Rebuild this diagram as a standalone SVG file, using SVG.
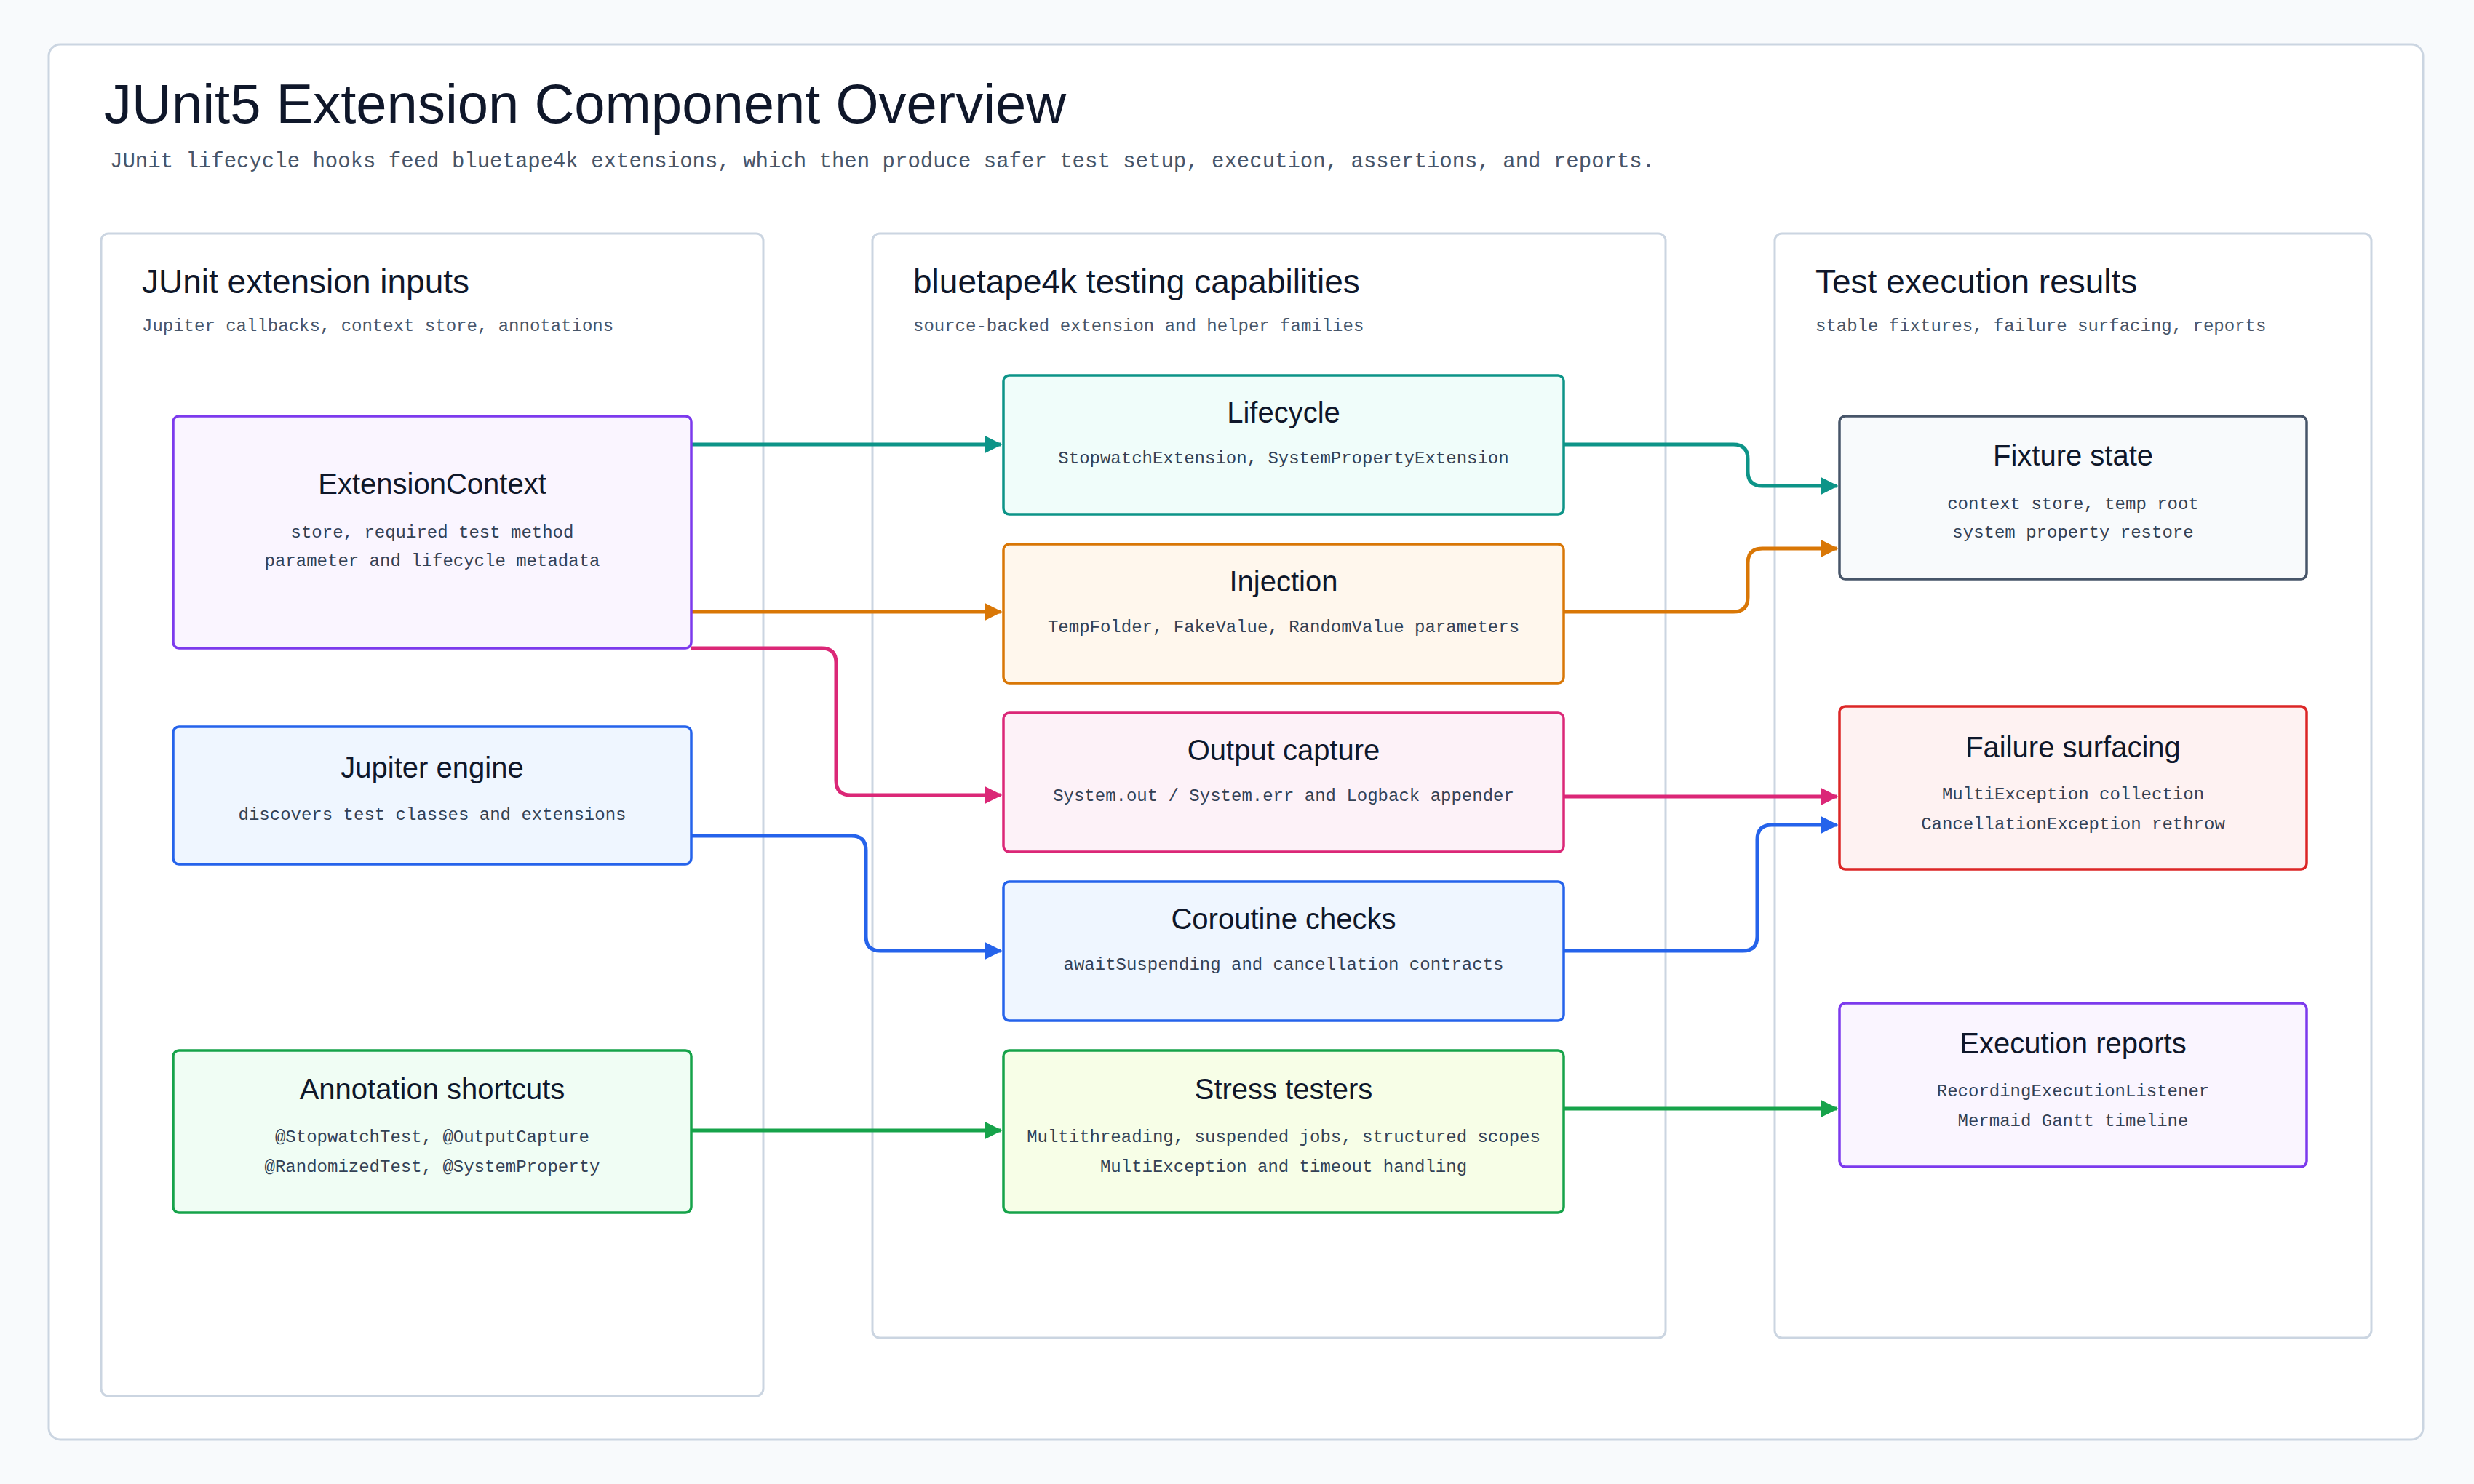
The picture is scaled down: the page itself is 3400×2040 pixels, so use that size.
<svg xmlns="http://www.w3.org/2000/svg" width="3400" height="2040" viewBox="0 0 3400 2040">
<style>
.h{font-family:"Liberation Sans","DejaVu Sans",sans-serif;fill:#0f172a}
.m{font-family:"Liberation Mono","DejaVu Sans Mono",monospace;fill:#475569}
.col{fill:#fff;stroke:#cbd5e1;stroke-width:3}
.nt{font-family:"Liberation Sans","DejaVu Sans",sans-serif;font-size:40px;fill:#0f172a;text-anchor:middle}
.nb{font-family:"Liberation Mono","DejaVu Sans Mono",monospace;font-size:24px;fill:#334155;text-anchor:middle}
.e{fill:none;stroke-width:5}
</style>
<defs>
<marker id="aT" viewBox="0 0 10 10" refX="9" refY="5" markerWidth="5" markerHeight="5" orient="auto"><path d="M0,0L10,5L0,10z" fill="#0d9488"/></marker>
<marker id="aO" viewBox="0 0 10 10" refX="9" refY="5" markerWidth="5" markerHeight="5" orient="auto"><path d="M0,0L10,5L0,10z" fill="#d97706"/></marker>
<marker id="aP" viewBox="0 0 10 10" refX="9" refY="5" markerWidth="5" markerHeight="5" orient="auto"><path d="M0,0L10,5L0,10z" fill="#db2777"/></marker>
<marker id="aB" viewBox="0 0 10 10" refX="9" refY="5" markerWidth="5" markerHeight="5" orient="auto"><path d="M0,0L10,5L0,10z" fill="#2563eb"/></marker>
<marker id="aG" viewBox="0 0 10 10" refX="9" refY="5" markerWidth="5" markerHeight="5" orient="auto"><path d="M0,0L10,5L0,10z" fill="#16a34a"/></marker>
</defs>
<rect width="3400" height="2040" fill="#f8fafc"/>
<rect x="67" y="61" width="3263" height="1918" rx="16" fill="#fff" stroke="#cbd5e1" stroke-width="3"/>
<text class="h" x="143" y="169" font-size="76">JUnit5 Extension Component Overview</text>
<text class="m" x="151" y="230" font-size="29">JUnit lifecycle hooks feed bluetape4k extensions, which then produce safer test setup, execution, assertions, and reports.</text>

<g id="col-inputs"><rect class="col" x="139" y="321" width="910" height="1598" rx="10"/>
<text class="h" x="195" y="403" font-size="46">JUnit extension inputs</text>
<text class="m" x="195" y="455" font-size="24">Jupiter callbacks, context store, annotations</text></g>
<g id="col-caps"><rect class="col" x="1199" y="321" width="1090" height="1518" rx="10"/>
<text class="h" x="1255" y="403" font-size="46">bluetape4k testing capabilities</text>
<text class="m" x="1255" y="455" font-size="24">source-backed extension and helper families</text></g>
<g id="col-results"><rect class="col" x="2439" y="321" width="820" height="1518" rx="10"/>
<text class="h" x="2495" y="403" font-size="46">Test execution results</text>
<text class="m" x="2495" y="455" font-size="24">stable fixtures, failure surfacing, reports</text></g>

<g id="connectors">
<path class="e" stroke="#0d9488" marker-end="url(#aT)" d="M950,611H1375"/>
<path class="e" stroke="#d97706" marker-end="url(#aO)" d="M950,841H1375"/>
<path class="e" stroke="#db2777" marker-end="url(#aP)" d="M950,891H1129Q1149,891 1149,911V1073Q1149,1093 1169,1093H1375"/>
<path class="e" stroke="#2563eb" marker-end="url(#aB)" d="M950,1149H1170Q1190,1149 1190,1169V1287Q1190,1307 1210,1307H1375"/>
<path class="e" stroke="#16a34a" marker-end="url(#aG)" d="M950,1554H1375"/>
<path class="e" stroke="#0d9488" marker-end="url(#aT)" d="M2149,611H2382Q2402,611 2402,631V648Q2402,668 2422,668H2524"/>
<path class="e" stroke="#d97706" marker-end="url(#aO)" d="M2149,841H2382Q2402,841 2402,821V774Q2402,754 2422,754H2524"/>
<path class="e" stroke="#db2777" marker-end="url(#aP)" d="M2149,1095H2524"/>
<path class="e" stroke="#2563eb" marker-end="url(#aB)" d="M2149,1307H2395Q2415,1307 2415,1287V1154Q2415,1134 2435,1134H2524"/>
<path class="e" stroke="#16a34a" marker-end="url(#aG)" d="M2149,1524H2524"/>
</g>

<g id="n-extctx"><rect x="238" y="572" width="712" height="319" rx="8" fill="#faf5ff" stroke="#7c3aed" stroke-width="3.5"/>
<text class="nt" x="594" y="679">ExtensionContext</text>
<text class="nb" x="594" y="739">store, required test method</text>
<text class="nb" x="594" y="778">parameter and lifecycle metadata</text></g>
<g id="n-jupiter"><rect x="238" y="999" width="712" height="189" rx="8" fill="#eff6ff" stroke="#2563eb" stroke-width="3.5"/>
<text class="nt" x="594" y="1069">Jupiter engine</text>
<text class="nb" x="594" y="1127">discovers test classes and extensions</text></g>
<g id="n-annot"><rect x="238" y="1444" width="712" height="223" rx="8" fill="#f0fdf4" stroke="#16a34a" stroke-width="3.5"/>
<text class="nt" x="594" y="1511">Annotation shortcuts</text>
<text class="nb" x="594" y="1570">@StopwatchTest, @OutputCapture</text>
<text class="nb" x="594" y="1611">@RandomizedTest, @SystemProperty</text></g>

<g id="n-lifecycle"><rect x="1379" y="516" width="770" height="191" rx="8" fill="#f0fdfa" stroke="#0d9488" stroke-width="3.5"/>
<text class="nt" x="1764" y="581">Lifecycle</text>
<text class="nb" x="1764" y="637">StopwatchExtension, SystemPropertyExtension</text></g>
<g id="n-injection"><rect x="1379" y="748" width="770" height="191" rx="8" fill="#fff7ed" stroke="#d97706" stroke-width="3.5"/>
<text class="nt" x="1764" y="813">Injection</text>
<text class="nb" x="1764" y="869">TempFolder, FakeValue, RandomValue parameters</text></g>
<g id="n-output"><rect x="1379" y="980" width="770" height="191" rx="8" fill="#fdf2f8" stroke="#db2777" stroke-width="3.5"/>
<text class="nt" x="1764" y="1045">Output capture</text>
<text class="nb" x="1764" y="1101">System.out / System.err and Logback appender</text></g>
<g id="n-coroutine"><rect x="1379" y="1212" width="770" height="191" rx="8" fill="#eff6ff" stroke="#2563eb" stroke-width="3.5"/>
<text class="nt" x="1764" y="1277">Coroutine checks</text>
<text class="nb" x="1764" y="1333">awaitSuspending and cancellation contracts</text></g>
<g id="n-stress"><rect x="1379" y="1444" width="770" height="223" rx="8" fill="#f7fee7" stroke="#16a34a" stroke-width="3.5"/>
<text class="nt" x="1764" y="1511">Stress testers</text>
<text class="nb" x="1764" y="1570">Multithreading, suspended jobs, structured scopes</text>
<text class="nb" x="1764" y="1611">MultiException and timeout handling</text></g>

<g id="n-fixture"><rect x="2528" y="572" width="642" height="224" rx="8" fill="#f8fafc" stroke="#475569" stroke-width="3.5"/>
<text class="nt" x="2849" y="640">Fixture state</text>
<text class="nb" x="2849" y="700">context store, temp root</text>
<text class="nb" x="2849" y="739">system property restore</text></g>
<g id="n-failure"><rect x="2528" y="971" width="642" height="224" rx="8" fill="#fef2f2" stroke="#dc2626" stroke-width="3.5"/>
<text class="nt" x="2849" y="1041">Failure surfacing</text>
<text class="nb" x="2849" y="1099">MultiException collection</text>
<text class="nb" x="2849" y="1140">CancellationException rethrow</text></g>
<g id="n-reports"><rect x="2528" y="1379" width="642" height="225" rx="8" fill="#faf5ff" stroke="#7c3aed" stroke-width="3.5"/>
<text class="nt" x="2849" y="1448">Execution reports</text>
<text class="nb" x="2849" y="1507">RecordingExecutionListener</text>
<text class="nb" x="2849" y="1548">Mermaid Gantt timeline</text></g>
</svg>
